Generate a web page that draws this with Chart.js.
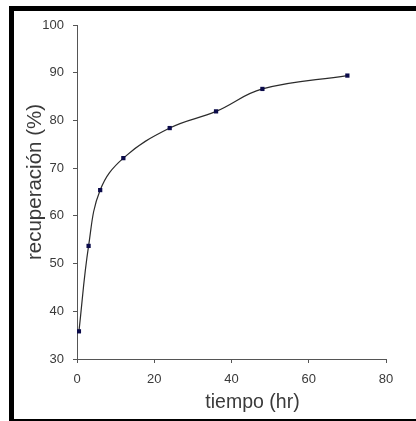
<!DOCTYPE html>
<html>
<head>
<meta charset="utf-8">
<script src="https://cdn.jsdelivr.net/npm/chart.js@4"></script>
<style>
    html, body { margin: 0; padding: 0; background: #fff; }
    #wrap { position: relative; width: 416px; height: 421px; overflow: hidden; }
    #chart { position: absolute; left: 0; top: 0; }
    #frame {
        position: absolute;
        left: 9px;
        top: 6px;
        width: 420px;
        height: 408px;
        border-left: 5px solid #000;
        border-top: 5px solid #000;
        border-bottom: 2px solid #000;
        pointer-events: none;
    }
</style>
</head>
<body>
<div id="wrap">
    <canvas id="chart" width="416" height="421"></canvas>
    <div id="frame"></div>
</div>
<script>
// data
const tiempo = [0.5, 3, 6, 12, 24, 36, 48, 70];
const recuperacion = [35.8, 53.7, 65.4, 72.1, 78.4, 81.9, 86.6, 89.4];
const xTicks = [0, 20, 40, 60, 80];
const yTicks = [30, 40, 50, 60, 70, 80, 90, 100];
const xTitle = "tiempo (hr)";
const yTitle = "recuperación (%)";

const FONT = "'Liberation Sans', Arial, sans-serif";
const TEXT = "#3a3a3a";
const AXIS = "#555";

// axis titles sit a little off the plot centre, as in the original
const axisTitles = {
    id: "axisTitles",
    afterDraw(chart) {
        const ctx = chart.ctx;
        const a = chart.chartArea;
        ctx.save();
        ctx.fillStyle = TEXT;
        ctx.textAlign = "center";
        ctx.textBaseline = "middle";
        ctx.font = "19.5px " + FONT;
        ctx.fillText(xTitle, (a.left + a.right) / 2 + 21, 403);
        ctx.translate(35, (a.top + a.bottom) / 2 - 10);
        ctx.rotate(-Math.PI / 2);
        ctx.font = "20.5px " + FONT;
        ctx.fillText(yTitle, 0, 0);
        ctx.restore();
    }
};

const points = tiempo.map((t, i) => ({ x: t, y: recuperacion[i] }));

new Chart(document.getElementById("chart").getContext("2d"), {
    type: "line",
    data: {
        datasets: [
            {
                data: points,
                borderColor: "#2b2b2b",
                borderWidth: 1.2,
                tension: 0.4,
                pointStyle: "rect",
                pointRadius: 3,
                pointBackgroundColor: "#0b0b4a",
                pointBorderColor: "#0b0b4a",
                pointBorderWidth: 0
            }
        ]
    },
    options: {
        responsive: false,
        devicePixelRatio: 1,
        animation: false,
        layout: { padding: { top: 25, right: 30, left: 0, bottom: 0 } },
        plugins: {
            legend: { display: false },
            tooltip: { enabled: false }
        },
        scales: {
            x: {
                type: "linear",
                min: xTicks[0],
                max: xTicks[xTicks.length - 1],
                afterFit: (s) => { s.height = 62; },
                afterBuildTicks: (s) => { s.ticks = xTicks.map(v => ({ value: v })); },
                grid: { drawOnChartArea: false, tickLength: 4, color: AXIS },
                border: { color: AXIS, width: 1 },
                ticks: { color: TEXT, padding: 9, font: { family: FONT, size: 13 } }
            },
            y: {
                min: yTicks[0],
                max: yTicks[yTicks.length - 1],
                afterFit: (s) => { s.width = 77; },
                afterBuildTicks: (s) => { s.ticks = yTicks.map(v => ({ value: v })); },
                grid: { drawOnChartArea: false, tickLength: 4, color: AXIS },
                border: { color: AXIS, width: 1 },
                ticks: { color: TEXT, padding: 9, font: { family: FONT, size: 13 } }
            }
        }
    },
    plugins: [axisTitles]
});
</script>
</body>
</html>
